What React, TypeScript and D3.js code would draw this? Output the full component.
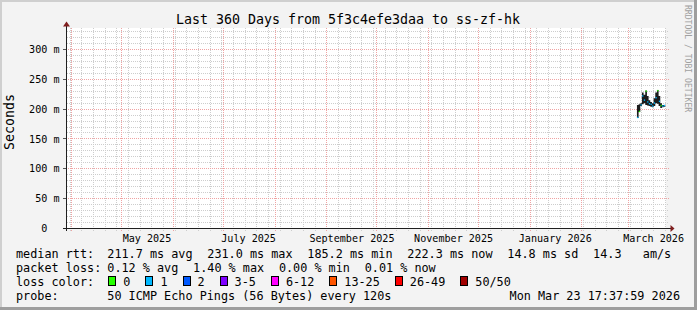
import React from "react";
import * as d3 from "d3";

// ---------- data ----------
const titleText = "Last 360 Days from 5f3c4efe3daa to ss-zf-hk";
const yAxisTitle = "Seconds";
const watermarkText = "RRDTOOL / TOBI OETIKER";
const startTime = "2025-03-28T17:37:59Z";
const endTime = "2026-03-23T17:37:59Z";
const yMaxSeconds = 0.335;
const yMajorTicks = [0, 0.05, 0.1, 0.15, 0.2, 0.25, 0.3];
const yTickLabels = ["0  ", "50 m", "100 m", "150 m", "200 m", "250 m", "300 m"];
const xLabelMonths = ["2025-05-01", "2025-07-01", "2025-09-01", "2025-11-01", "2026-01-01", "2026-03-01"];
const xLabelTexts = ["May 2025", "July 2025", "September 2025", "November 2025", "January 2026", "March 2026"];

const dataDays = [
  "2026-03-06", "2026-03-07", "2026-03-08", "2026-03-09", "2026-03-10", "2026-03-11",
  "2026-03-12", "2026-03-13", "2026-03-14", "2026-03-15", "2026-03-16", "2026-03-17",
  "2026-03-18", "2026-03-19", "2026-03-20", "2026-03-21", "2026-03-22",
];
const medianMs = [186, 196, 207, 222, 215, 230, 212, 209, 208, 205, 210, 219, 231, 213, 206, 205, 206];
const smokeLowMs = [185, 195, 205, 208, 210, 207, 206, 205, 204, 203, 205, 210, 209, 205, 202, 203, 204];
const smokeHighMs = [207, 208, 210, 228, 224, 231, 222, 215, 212, 210, 218, 228, 232, 222, 210, 207, 207];
const lossCount = [1, 0, 1, 1, 1, 0, 1, 1, 1, 1, 1, 1, 0, 1, 0, 1, 1];

const medianRow = ["211.7 ms avg", "231.0 ms max", "185.2 ms min", "222.3 ms now", "14.8 ms sd", "14.3   am/s"];
const lossRow = ["0.12 % avg", "1.40 % max", "0.00 % min", "0.01 % now"];
const lossColorLabels = ["0", "1", "2", "3-5", "6-12", "13-25", "26-49", "50/50"];
const lossColors = ["#26ff00", "#00b8ff", "#0059ff", "#7e00ff", "#ff00ff", "#ff5500", "#ff0000", "#a10000"];
const probeText = "50 ICMP Echo Pings (56 Bytes) every 120s";
const dateText = "Mon Mar 23 17:37:59 2026";

// ---------- layout ----------
const W = 697, H = 310;
const X0 = 66.5, X1 = 666.5, Y0 = 228.5, Y1 = 28.5;
const MONO = "'DejaVu Sans Mono', monospace";
const CW = 7.1; // legend char width
const LEG_FS = 11.8;
const GRID = "#cdcdcd";
const MGRID = "#efa3a3";
const nb = (s: string) => s.replace(/ /g, "\u00a0");

export default function App() {
  const x = d3.scaleUtc().domain([new Date(startTime), new Date(endTime)]).range([X0, X1]);
  const y = d3.scaleLinear().domain([0, yMaxSeconds]).range([Y0, Y1]);
  const [t0, t1] = x.domain();
  const weeks = d3.utcMonday.range(t0, t1);
  const months = d3.utcMonth.range(t0, t1);
  const yMinor = d3.range(0, yMaxSeconds, 0.01).filter((v) => Math.round(v * 1000) % 50 !== 0);
  const px = (v: number) => Math.floor(v) + 0.5;

  const dayW = x(new Date("2026-03-02T00:00:00Z")) - x(new Date("2026-03-01T00:00:00Z"));

  // legend positions
  let cursor = 107.3;
  const medianPos = medianRow.map((s) => { const p = cursor; cursor += s.length * CW + 14.8; return p; });
  cursor = 107.3;
  const lossPos = lossRow.map((s) => { const p = cursor; cursor += s.length * CW + 14.8; return p; });
  cursor = 108.3;
  const lcPos = lossColorLabels.map((s) => { const p = cursor; cursor += 15 + s.length * CW + 15; return p; });

  const lossColorFor = (n: number) => lossColors[Math.min(n, lossColors.length - 1)];
  const xi0 = Math.floor(X0), xi1 = Math.floor(X1);
  const yi0 = Math.floor(Y0), yi1 = Math.floor(Y1);

  // smoke as a stepped band, median as coloured step segments
  const smokeArea = d3
    .area<number>()
    .curve(d3.curveStepAfter)
    .x((_, i) => x(new Date(dataDays[Math.min(i, dataDays.length - 1)] + "T00:00:00Z")) + (i >= dataDays.length ? dayW : 0))
    .y0((v, i) => y(smokeLowMs[Math.min(i, dataDays.length - 1)] / 1000))
    .y1((v, i) => y(smokeHighMs[Math.min(i, dataDays.length - 1)] / 1000));
  const areaIdx = d3.range(dataDays.length + 1);

  return (
    <svg width={W} height={H} style={{ position: "absolute", left: 0, top: 0 }} fontFamily={MONO}>
      <rect x={0} y={0} width={W} height={H} fill="#f3f3f3" />
      {/* shades */}
      <rect x={0} y={0} width={W} height={2} fill="#cfcfcf" />
      <rect x={0} y={0} width={2} height={H} fill="#cfcfcf" />
      <rect x={0} y={H - 3} width={W} height={3} fill="#9e9e9e" />
      <rect x={W - 3} y={0} width={3} height={H} fill="#9e9e9e" />
      {/* canvas */}
      <rect x={xi0} y={yi1} width={xi1 - xi0} height={yi0 - yi1} fill="#ffffff" />

      {/* minor grid */}
      <g shapeRendering="crispEdges">
        {yMinor.map((v, i) => (
          <line key={"ym" + i} x1={xi0 + 1} x2={xi1 + 2} y1={px(y(v))} y2={px(y(v))} stroke={GRID} strokeDasharray="1 1" />
        ))}
        {weeks.map((d, i) => (
          <line key={"xm" + i} x1={px(x(d))} x2={px(x(d))} y1={yi1} y2={yi0 + 3} stroke={GRID} strokeDasharray="1 1" />
        ))}
        {/* major grid */}
        {yMajorTicks.slice(1).map((v, i) => (
          <g key={"yM" + i}>
            <line x1={xi0 - 2} x2={xi1 + 3} y1={px(y(v))} y2={px(y(v))} stroke={MGRID} strokeDasharray="1 1" />
            <line x1={xi0 - 3} x2={xi0} y1={px(y(v))} y2={px(y(v))} stroke="#555" />
          </g>
        ))}
        {months.map((d, i) => (
          <line key={"xM" + i} x1={px(x(d))} x2={px(x(d))} y1={yi1} y2={yi0 + 3} stroke={MGRID} strokeDasharray="1 1" />
        ))}
      </g>

      {/* smoke */}
      <path d={smokeArea(areaIdx) || ""} fill="#1c1c1c" />
      {/* median coloured by loss */}
      {dataDays.map((d, i) => {
        const t = new Date(d + "T00:00:00Z");
        const xa = x(t);
        const ym = y(medianMs[i] / 1000);
        return <rect key={"m" + i} x={xa + 0.2} y={ym - 0.7} width={dayW - 0.4} height={1.4} fill={lossColorFor(lossCount[i])} />;
      })}

      {/* axes */}
      <g shapeRendering="crispEdges">
        <line x1={xi0 - 3} x2={xi1 + 5} y1={Y0} y2={Y0} stroke="#1f1f1f" />
        <line x1={X0} x2={X0} y1={yi0 + 3} y2={yi1 - 3} stroke="#1f1f1f" />
      </g>
      <path d={`M${X1 + 4},${Y0 - 3.5} L${X1 + 8},${Y0} L${X1 + 4},${Y0 + 3.5} Z`} fill="#801f1f" />
      <path d={`M${X0 - 3.5},${Y1 - 2} L${X0},${Y1 - 7} L${X0 + 3.5},${Y1 - 2} Z`} fill="#801f1f" />

      {/* y labels */}
      {yMajorTicks.map((v, i) => (
        <text key={"yl" + i} x={59.5} y={y(v) + 3.7} fontSize={10.1} textAnchor="end">
          {nb(yTickLabels[i])}
        </text>
      ))}
      {/* x labels */}
      {xLabelMonths.map((m, i) => {
        const t = d3.utcDay.offset(new Date(m + "T00:00:00Z"), 15);
        return (
          <text key={"xl" + i} x={x(t)} y={241.7} fontSize={10.1} textAnchor="middle">
            {xLabelTexts[i]}
          </text>
        );
      })}

      {/* title */}
      <text x={W / 2 - 0.5} y={24} fontSize={13.3} textAnchor="middle">{titleText}</text>
      <text transform="translate(14,122) rotate(-90)" fontSize={13.3} textAnchor="middle">{yAxisTitle}</text>
      <text transform="translate(684.5,5) rotate(90)" fontSize={8.1} fill="#a0a0a0">{watermarkText}</text>

      {/* legend */}
      <g fontSize={LEG_FS}>
        <text x={16} y={258}>median rtt:</text>
        {medianRow.map((s, i) => <text key={"mr" + i} x={medianPos[i]} y={258}>{nb(s)}</text>)}
        <text x={16} y={272}>packet loss:</text>
        {lossRow.map((s, i) => <text key={"lr" + i} x={lossPos[i]} y={272}>{nb(s)}</text>)}
        <text x={16} y={286}>loss color:</text>
        {lossColorLabels.map((s, i) => (
          <g key={"lc" + i}>
            <rect x={Math.round(lcPos[i]) + 0.5} y={276.5} width={7} height={9} fill={lossColors[i]} stroke="#000" />
            <text x={lcPos[i] + 15} y={286}>{s}</text>
          </g>
        ))}
        <text x={16} y={300}>probe:</text>
        <text x={107.3} y={300}>{probeText}</text>
        <text x={680} y={300} textAnchor="end">{dateText}</text>
      </g>
    </svg>
  );
}
